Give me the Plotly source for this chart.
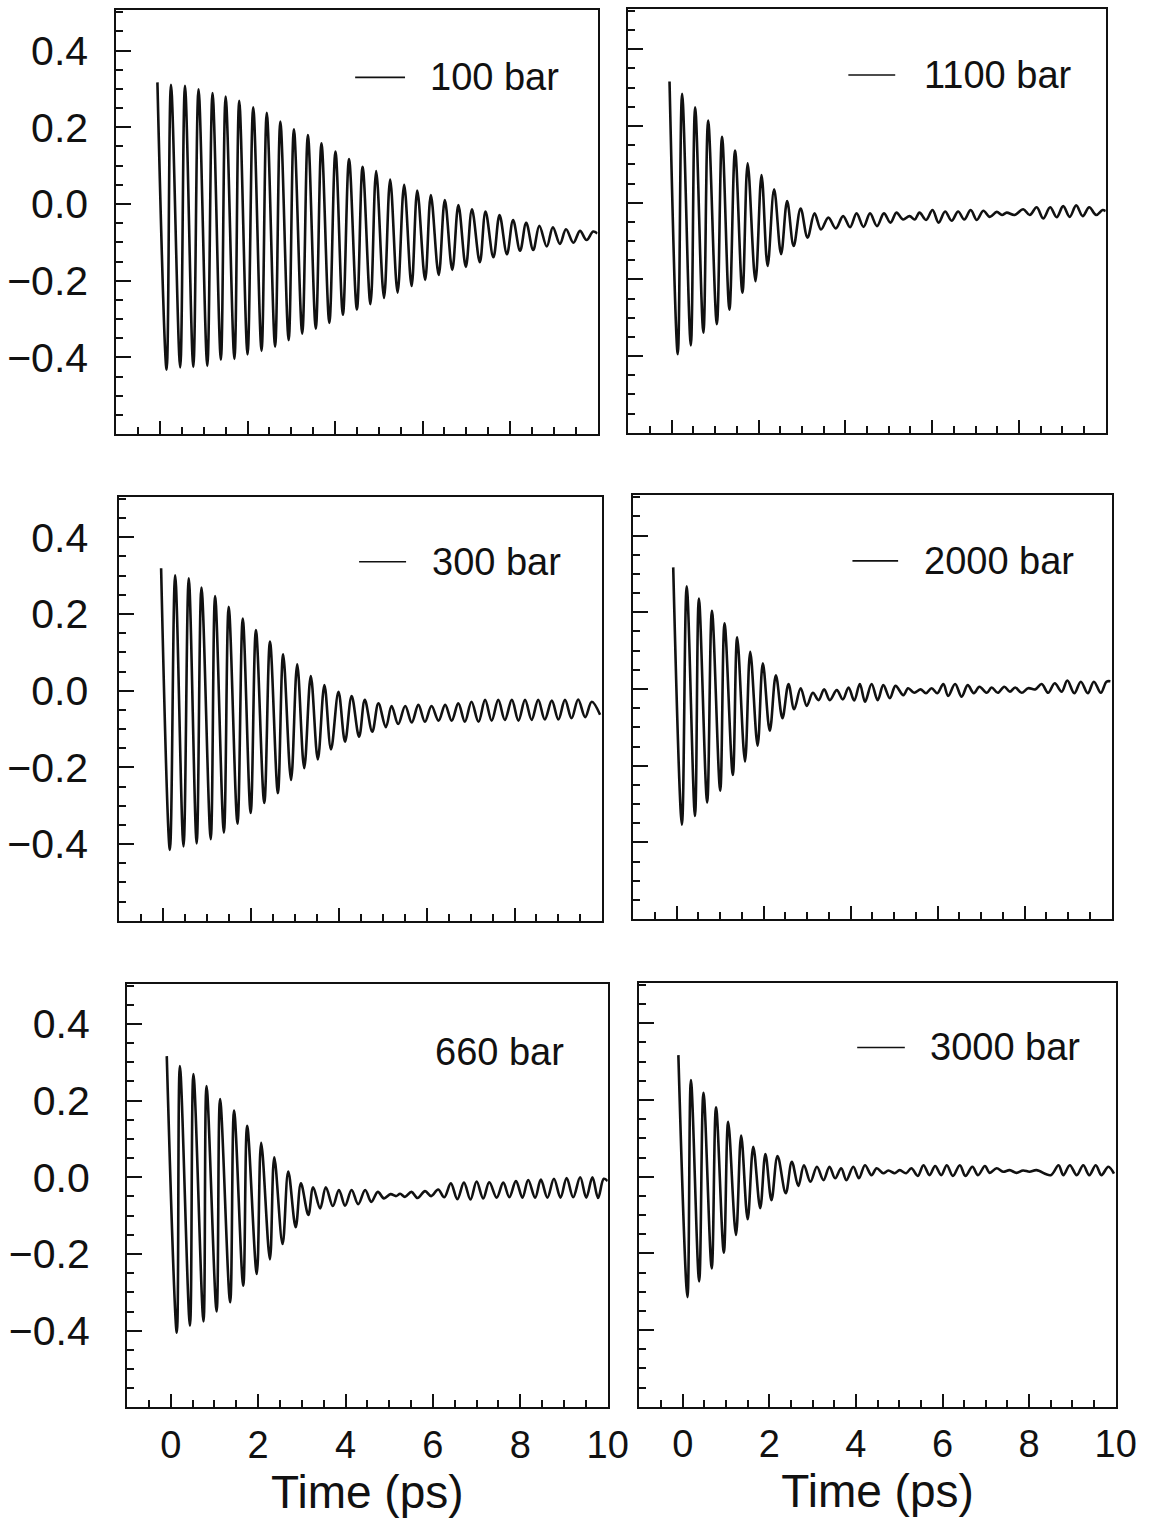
import plotly.graph_objects as go

# ---------------------------------------------------------------------------
# Time-correlation traces: successive turning points (time in ps, value)
# ---------------------------------------------------------------------------
t_100 = [-0.06, 0.15, 0.25, 0.46, 0.57, 0.76, 0.88, 1.08, 1.20, 1.39, 1.50, 1.70, 1.81,
         2.00, 2.13, 2.32, 2.44, 2.63, 2.75, 2.94, 3.06, 3.25, 3.38, 3.56, 3.69, 3.87,
         4.01, 4.18, 4.32, 4.50, 4.63, 4.81, 4.94, 5.12, 5.26, 5.43, 5.58, 5.75, 5.88,
         6.06, 6.19, 6.37, 6.51, 6.68, 6.82, 6.99, 7.13, 7.31, 7.44, 7.62, 7.76, 7.93,
         8.07, 8.23, 8.37, 8.53, 8.67, 8.84, 8.98, 9.14, 9.28, 9.45, 9.60, 9.75, 9.90, 10.0]
c_100 = [0.317, -0.432, 0.311, -0.426, 0.308, -0.425, 0.299, -0.422, 0.289, -0.406, 0.280,
         -0.404, 0.269, -0.392, 0.252, -0.383, 0.238, -0.372, 0.215, -0.355, 0.195, -0.338,
         0.180, -0.325, 0.158, -0.310, 0.137, -0.289, 0.117, -0.275, 0.097, -0.261, 0.086,
         -0.245, 0.064, -0.231, 0.050, -0.214, 0.035, -0.198, 0.023, -0.185, 0.010, -0.172,
         -0.003, -0.164, -0.014, -0.152, -0.020, -0.139, -0.029, -0.131, -0.042, -0.122,
         -0.049, -0.120, -0.057, -0.111, -0.061, -0.104, -0.066, -0.101, -0.070, -0.094,
         -0.072, -0.077]

t_1100 = [-0.05, 0.14, 0.24, 0.44, 0.54, 0.73, 0.84, 1.04, 1.16, 1.33, 1.46, 1.63, 1.75,
          1.93, 2.07, 2.21, 2.36, 2.52, 2.66, 2.81, 2.97, 3.13, 3.29, 3.44, 3.61, 3.78,
          3.95, 4.11, 4.26, 4.42, 4.57, 4.73, 4.89, 5.04, 5.18, 5.33, 5.48, 5.60, 5.71,
          5.86, 6.01, 6.15, 6.30, 6.45, 6.60, 6.74, 6.89, 7.03, 7.18, 7.33, 7.49, 7.61,
          7.72, 7.90, 8.10, 8.25, 8.41, 8.56, 8.72, 8.87, 9.02, 9.17, 9.32, 9.47, 9.62,
          9.78, 9.93, 10.0]
c_1100 = [0.316, -0.395, 0.284, -0.372, 0.249, -0.339, 0.214, -0.317, 0.172, -0.279, 0.136,
          -0.235, 0.103, -0.205, 0.072, -0.165, 0.035, -0.134, 0.004, -0.113, -0.015,
          -0.091, -0.028, -0.070, -0.039, -0.067, -0.035, -0.064, -0.028, -0.063, -0.028,
          -0.061, -0.028, -0.052, -0.026, -0.044, -0.035, -0.044, -0.026, -0.045, -0.019,
          -0.052, -0.023, -0.047, -0.023, -0.044, -0.019, -0.045, -0.021, -0.037, -0.024,
          -0.032, -0.026, -0.032, -0.017, -0.032, -0.012, -0.041, -0.012, -0.038, -0.009,
          -0.037, -0.007, -0.035, -0.012, -0.032, -0.019, -0.022]

t_300 = [-0.05, 0.15, 0.27, 0.46, 0.58, 0.76, 0.87, 1.08, 1.18, 1.38, 1.49, 1.69, 1.81,
         1.99, 2.11, 2.30, 2.43, 2.61, 2.73, 2.91, 3.05, 3.21, 3.36, 3.52, 3.67, 3.82,
         3.99, 4.14, 4.29, 4.46, 4.59, 4.76, 4.90, 5.07, 5.20, 5.35, 5.51, 5.66, 5.81,
         5.96, 6.11, 6.27, 6.42, 6.57, 6.72, 6.87, 7.02, 7.18, 7.33, 7.48, 7.63, 7.78,
         7.94, 8.09, 8.24, 8.39, 8.54, 8.69, 8.85, 9.00, 9.15, 9.30, 9.45, 9.61, 9.76, 9.95]
c_300 = [0.319, -0.415, 0.301, -0.406, 0.293, -0.398, 0.269, -0.387, 0.247, -0.370, 0.219,
         -0.347, 0.188, -0.319, 0.158, -0.293, 0.128, -0.267, 0.095, -0.233, 0.069, -0.202,
         0.038, -0.179, 0.015, -0.153, -0.003, -0.133, -0.014, -0.120, -0.024, -0.107,
         -0.033, -0.095, -0.040, -0.087, -0.040, -0.083, -0.037, -0.081, -0.040, -0.078,
         -0.037, -0.078, -0.033, -0.081, -0.029, -0.081, -0.024, -0.078, -0.024, -0.076,
         -0.024, -0.078, -0.024, -0.076, -0.024, -0.075, -0.026, -0.075, -0.024, -0.072,
         -0.023, -0.069, -0.029, -0.063]

t_2000 = [-0.08, 0.12, 0.23, 0.42, 0.51, 0.70, 0.81, 1.00, 1.10, 1.29, 1.39, 1.57, 1.69,
          1.86, 1.98, 2.14, 2.28, 2.43, 2.57, 2.70, 2.85, 2.99, 3.13, 3.26, 3.39, 3.52,
          3.68, 3.82, 3.95, 4.08, 4.21, 4.33, 4.48, 4.62, 4.75, 4.90, 5.03, 5.21, 5.32,
          5.46, 5.61, 5.73, 5.86, 5.99, 6.13, 6.24, 6.40, 6.55, 6.69, 6.83, 6.96, 7.13,
          7.24, 7.38, 7.53, 7.66, 7.78, 7.93, 8.08, 8.24, 8.39, 8.54, 8.69, 8.85, 8.98,
          9.14, 9.29, 9.45, 9.59, 9.75, 9.88, 9.97]
c_2000 = [0.317, -0.354, 0.268, -0.331, 0.236, -0.296, 0.204, -0.265, 0.171, -0.224, 0.135,
          -0.189, 0.097, -0.148, 0.067, -0.109, 0.036, -0.076, 0.013, -0.053, 0.002, -0.044,
          -0.010, -0.029, -0.001, -0.029, -0.003, -0.027, 0.004, -0.030, 0.013, -0.033,
          0.013, -0.029, 0.010, -0.024, 0.008, -0.016, 0.002, -0.010, -0.001, -0.011, 0.002,
          -0.011, 0.013, -0.018, 0.013, -0.020, 0.010, -0.011, 0.006, -0.010, 0.004, -0.010,
          0.006, -0.007, 0.004, -0.010, 0.002, -0.001, 0.013, -0.010, 0.015, -0.007, 0.022,
          -0.011, 0.019, -0.011, 0.019, -0.010, 0.019, 0.020]

t_660 = [-0.09, 0.14, 0.21, 0.44, 0.52, 0.75, 0.82, 1.05, 1.13, 1.36, 1.45, 1.66, 1.75,
         1.97, 2.07, 2.27, 2.37, 2.56, 2.69, 2.86, 2.98, 3.15, 3.26, 3.42, 3.55, 3.71,
         3.85, 3.99, 4.14, 4.29, 4.45, 4.59, 4.74, 4.88, 5.03, 5.16, 5.25, 5.36, 5.51,
         5.65, 5.82, 5.96, 6.12, 6.26, 6.41, 6.56, 6.71, 6.86, 7.00, 7.15, 7.29, 7.46,
         7.61, 7.75, 7.90, 8.05, 8.18, 8.34, 8.47, 8.62, 8.77, 8.92, 9.06, 9.21, 9.37,
         9.51, 9.65, 9.78, 9.91, 10.0]
c_660 = [0.316, -0.405, 0.290, -0.387, 0.269, -0.376, 0.238, -0.350, 0.204, -0.326, 0.174,
         -0.283, 0.134, -0.252, 0.090, -0.214, 0.052, -0.174, 0.015, -0.130, -0.016, -0.098,
         -0.026, -0.081, -0.026, -0.075, -0.033, -0.074, -0.033, -0.070, -0.033, -0.064,
         -0.038, -0.055, -0.044, -0.049, -0.043, -0.051, -0.038, -0.054, -0.036, -0.049,
         -0.032, -0.052, -0.016, -0.057, -0.014, -0.058, -0.011, -0.055, -0.013, -0.053,
         -0.014, -0.052, -0.010, -0.053, -0.007, -0.053, -0.006, -0.053, -0.004, -0.053,
         -0.002, -0.052, 0.000, -0.053, 0.000, -0.054, -0.004, -0.010]

t_3000 = [-0.10, 0.11, 0.19, 0.38, 0.48, 0.67, 0.77, 0.95, 1.05, 1.23, 1.35, 1.50, 1.63,
          1.79, 1.91, 2.05, 2.19, 2.38, 2.52, 2.67, 2.80, 2.95, 3.10, 3.25, 3.39, 3.52,
          3.66, 3.78, 3.94, 4.07, 4.21, 4.36, 4.48, 4.63, 4.75, 4.90, 5.01, 5.16, 5.28,
          5.43, 5.56, 5.70, 5.83, 5.97, 6.10, 6.24, 6.40, 6.53, 6.69, 6.82, 6.98, 7.09,
          7.25, 7.40, 7.55, 7.71, 7.86, 8.01, 8.17, 8.50, 8.68, 8.79, 8.94, 9.10, 9.25,
          9.39, 9.54, 9.67, 9.83, 9.96]
c_3000 = [0.317, -0.314, 0.252, -0.273, 0.219, -0.239, 0.181, -0.198, 0.143, -0.152, 0.107,
          -0.111, 0.078, -0.082, 0.059, -0.061, 0.054, -0.043, 0.039, -0.024, 0.030, -0.013,
          0.026, -0.009, 0.026, -0.004, 0.022, -0.009, 0.026, -0.004, 0.030, 0.004, 0.022,
          0.009, 0.016, 0.009, 0.017, 0.009, 0.022, 0.002, 0.030, 0.004, 0.028, 0.004, 0.030,
          0.002, 0.030, 0.002, 0.026, 0.004, 0.028, 0.010, 0.022, 0.013, 0.017, 0.010, 0.016,
          0.013, 0.017, 0.004, 0.030, 0.004, 0.030, 0.004, 0.030, 0.004, 0.030, 0.004, 0.026,
          0.008]

# panel order: row by row, left column first
labels = ["100 bar", "1100 bar", "300 bar", "2000 bar", "660 bar", "3000 bar"]
times = [t_100, t_1100, t_300, t_2000, t_660, t_3000]
values = [c_100, c_1100, c_300, c_2000, c_660, c_3000]

y_tickvals = [-0.4, -0.2, 0.0, 0.2, 0.4]
x_title = "Time (ps)"

for t, c in zip(times, values):
    assert len(t) == len(c)

# ---------------------------------------------------------------------------
# Layout
# ---------------------------------------------------------------------------
W, H = 1152, 1522
FONT = "Liberation Sans, Arial, Helvetica, sans-serif"
INK = "#111111"
X_RANGE = [-1.0, 10.0]
Y_RANGE = [-0.6, 0.505]

# panel frames in pixels: left, right, top, bottom
FRAMES = [
    (116.3, 597.5, 10.3, 434.1),
    (628.3, 1105.7, 9.0, 432.8),
    (119.4, 602.3, 497.0, 920.8),
    (633.2, 1111.7, 495.3, 919.1),
    (127.0, 607.7, 983.6, 1407.4),
    (639.4, 1115.7, 983.0, 1406.8),
]
# key sample segment (ps) or None, text start (ps), key height
KEYS = [
    ((4.46, 5.60), 6.13, 0.330),
    ((4.07, 5.15), 5.76, 0.333),
    ((4.46, 5.53), 6.08, 0.336),
    ((4.04, 5.09), 5.63, 0.334),
    (None, 6.01, 0.327),
    ((4.03, 5.13), 5.67, 0.337),
]
# gap between the left frame and the y tick labels, per row
Y_LABEL_GAP = [18, 21, 27]

fig = go.Figure()
annotations = []
shapes = []
axes = {}

for i, (label, t, c) in enumerate(zip(labels, times, values)):
    n = i + 1
    xa = "x" if n == 1 else f"x{n}"
    ya = "y" if n == 1 else f"y{n}"
    row, col = divmod(i, 2)
    left, right, top, bottom = FRAMES[i]

    fig.add_trace(go.Scatter(
        x=t, y=c, mode="lines",
        line=dict(color=INK, width=2.6, shape="spline", smoothing=1.0),
        xaxis=xa, yaxis=ya, showlegend=False, hoverinfo="skip",
    ))

    bottom_row = row == 2
    xaxis = dict(
        domain=[left / W, right / W], anchor=ya, range=X_RANGE, automargin=False,
        showline=True, mirror=True, linecolor=INK, linewidth=2,
        showgrid=False, zeroline=False,
        ticks="inside", tickmode="linear", tick0=0, dtick=2,
        ticklen=13, tickwidth=2, tickcolor=INK,
        minor=dict(ticks="inside", tickmode="linear", tick0=0, dtick=0.5,
                   ticklen=7, tickwidth=1.5, tickcolor=INK, showgrid=False),
        showticklabels=bottom_row,
        tickfont=dict(family=FONT, size=38, color=INK),
        ticklabelstandoff=3,
    )
    if bottom_row:
        xaxis["title"] = dict(text=x_title, font=dict(family=FONT, size=46, color=INK),
                              standoff=7)
    yaxis = dict(
        domain=[1 - bottom / H, 1 - top / H], anchor=xa, range=Y_RANGE, automargin=False,
        showline=True, mirror=True, linecolor=INK, linewidth=2,
        showgrid=False, zeroline=False,
        ticks="inside", tickmode="array", tickvals=y_tickvals, tickformat=".1f",
        ticklen=15, tickwidth=2, tickcolor=INK,
        minor=dict(ticks="inside", tickmode="linear", tick0=0, dtick=0.05,
                   ticklen=7, tickwidth=1.5, tickcolor=INK, showgrid=False),
        showticklabels=(col == 0),
        tickfont=dict(family=FONT, size=41, color=INK),
        ticklabelstandoff=Y_LABEL_GAP[row],
    )
    axes["xaxis" if n == 1 else f"xaxis{n}"] = xaxis
    axes["yaxis" if n == 1 else f"yaxis{n}"] = yaxis

    seg, text_x, key_y = KEYS[i]
    if seg is not None:
        shapes.append(dict(type="line", xref=xa, yref=ya, x0=seg[0], x1=seg[1],
                           y0=key_y, y1=key_y, line=dict(color=INK, width=1.6)))
    annotations.append(dict(xref=xa, yref=ya, x=text_x, y=key_y, text=label,
                            xanchor="left", yanchor="middle", showarrow=False,
                            font=dict(family=FONT, size=38, color=INK)))

fig.update_layout(
    width=W, height=H, autosize=False,
    margin=dict(l=0, r=0, t=0, b=0, pad=0, autoexpand=False),
    paper_bgcolor="white", plot_bgcolor="white",
    font=dict(family=FONT, color=INK),
    showlegend=False, hovermode=False,
    annotations=annotations, shapes=shapes,
    **axes,
)

# keep the page exactly the figure size (no body margin, no scrollbars)
page_fix = (
    "document.documentElement.style.overflow='hidden';"
    "document.body.style.margin='0';"
    "document.body.style.overflow='hidden';"
    "Plotly.relayout(document.getElementById('{plot_id}'), {width: %d, height: %d});" % (W, H)
)
fig.write_html("out.html", config={"responsive": False}, post_script=page_fix)
